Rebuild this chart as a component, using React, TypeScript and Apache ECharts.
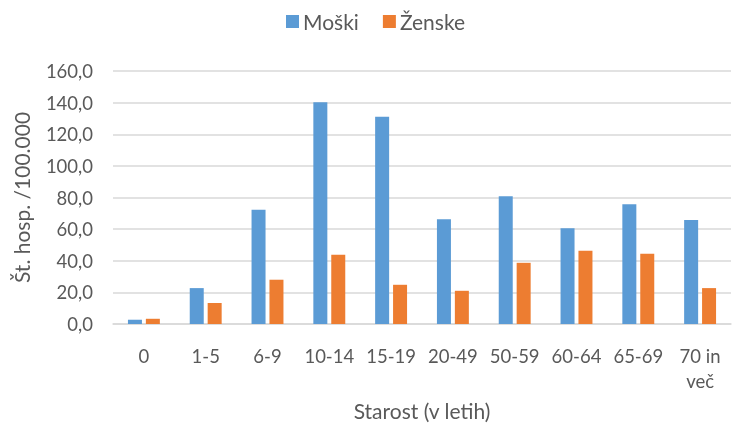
import React, { useEffect, useRef } from "react";
import * as echarts from "echarts";

const categories = ["0", "1-5", "6-9", "10-14", "15-19", "20-49", "50-59", "60-64", "65-69", "70 in\nveč"];
const moski = [2.7, 22.7, 72.2, 140.2, 131.0, 66.3, 80.8, 60.6, 75.8, 65.7];
const zenske = [3.3, 13.3, 28.0, 43.8, 24.8, 21.0, 38.7, 46.3, 44.4, 22.7];
const seriesNames = ["Moški", "Ženske"];
const colors = ["#5B9BD5", "#ED7D31"];

const FONT = "Lato";
const TEXT = "#595959";

export default function App() {
  const ref = useRef<HTMLDivElement>(null);
  useEffect(() => {
    if (!ref.current) return;
    const chart = echarts.init(ref.current, undefined, { renderer: "svg" });
    chart.setOption({
      animation: false,
      textStyle: { fontFamily: FONT, color: TEXT },
      legend: {
        top: 6,
        left: 281,
        itemWidth: 13,
        itemHeight: 13,
        itemGap: 24,
        icon: "rect",
        textStyle: { fontFamily: FONT, fontSize: 21, color: TEXT, padding: [0, 0, 0, -1] },
        data: seriesNames,
      },
      grid: { left: 113, right: 1, top: 71, bottom: 103 },
      xAxis: {
        type: "category",
        data: categories,
        axisLine: { lineStyle: { color: "#D9D9D9", width: 1.5 } },
        axisTick: { show: false },
        axisLabel: { fontFamily: FONT, fontSize: 18.5, color: TEXT, margin: 19, lineHeight: 25, interval: 0 },
        name: "Starost (v letih)",
        nameLocation: "middle",
        nameGap: 76,
        nameTextStyle: { fontFamily: FONT, fontSize: 21, color: TEXT },
      },
      yAxis: {
        type: "value",
        min: 0,
        max: 160,
        interval: 20,
        axisLine: { show: false },
        axisTick: { show: false },
        splitLine: { lineStyle: { color: "#D9D9D9", width: 1.5 } },
        axisLabel: {
          fontFamily: FONT,
          fontSize: 18.5,
          color: TEXT,
          margin: 20,
          formatter: (v: number) => v.toFixed(1).replace(".", ","),
        },
        name: "Št. hosp. /100.000",
        nameLocation: "middle",
        nameGap: 81,
        nameRotate: 90,
        nameTextStyle: { fontFamily: FONT, fontSize: 21, color: TEXT },
      },
      series: [
        {
          name: seriesNames[0],
          type: "bar",
          data: moski,
          itemStyle: { color: colors[0] },
          barWidth: 14,
          barGap: "28%",
        },
        {
          name: seriesNames[1],
          type: "bar",
          data: zenske,
          itemStyle: { color: colors[1] },
          barWidth: 14,
          barGap: "28%",
        },
      ],
    });
    return () => chart.dispose();
  }, []);
  return <div ref={ref} style={{ position: "fixed", left: 0, top: 0, width: 732, height: 427 }} />;
}
